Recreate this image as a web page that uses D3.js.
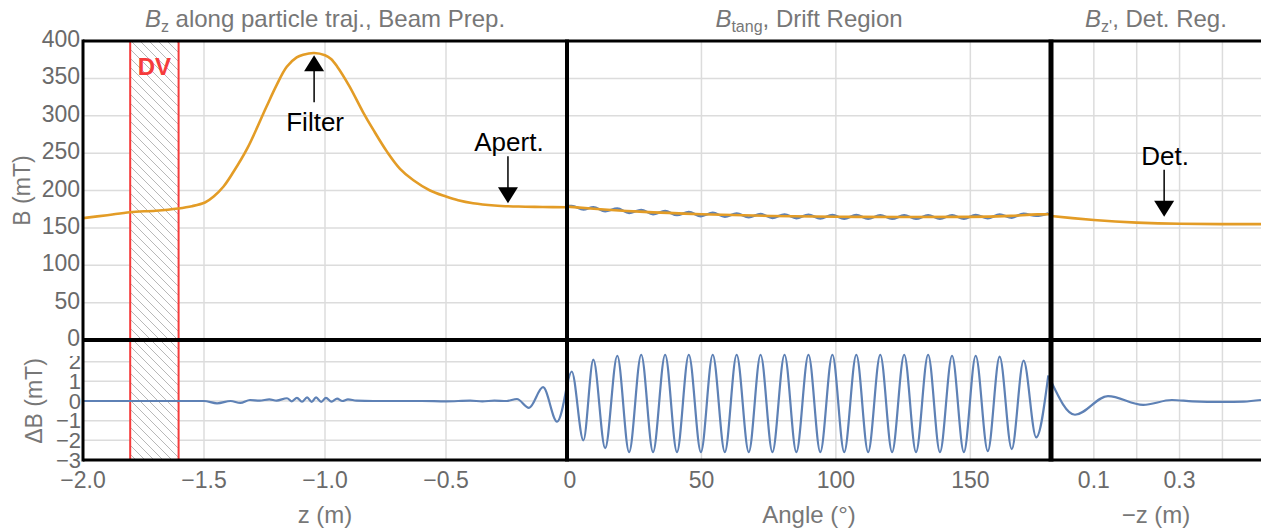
<!DOCTYPE html>
<html>
<head>
<meta charset="utf-8">
<script src="https://cdn.jsdelivr.net/npm/d3@7"></script>
<style>
  body { margin: 0; background: #fff; }
  text { font-family: "Liberation Sans", Arial, Helvetica, sans-serif; }
</style>
</head>
<body>
<svg id="chart" width="1261" height="531"></svg>
<script>
// --- Data ---

const bTicks = [0, 50, 100, 150, 200, 250, 300, 350, 400];
const dbTicks = [-3, -2, -1, 0, 1, 2];
const zTicks = [-2.0, -1.5, -1.0, -0.5];
const zGrid = [-1.5, -1.0, -0.5];
const angleTicks = [0, 50, 100, 150];
const angleGrid = [50, 100, 150];
const detTicks = [0.1, 0.3];
const detGrid = [0.1, 0.2, 0.3, 0.4];

// B_z along trajectory, beam prep (z in m, B in mT)
const bzBeam = [
  [-2.0, 163], [-1.9, 167], [-1.806, 171], [-1.7, 173], [-1.607, 176], [-1.55, 179],
  [-1.496, 184], [-1.46, 192], [-1.42, 205], [-1.38, 224], [-1.32, 257], [-1.242, 312],
  [-1.2, 341], [-1.158, 365.5], [-1.117, 378], [-1.09, 381.7], [-1.045, 384], [-1.0, 381],
  [-0.975, 376], [-0.95, 366], [-0.9, 340], [-0.843, 305], [-0.8, 281], [-0.744, 252],
  [-0.69, 229], [-0.636, 214], [-0.566, 200], [-0.5, 192], [-0.45, 187], [-0.388, 183],
  [-0.3, 180], [-0.2, 178.5], [-0.1, 178], [0, 177.5]
];
// deviation, beam prep (mT)
const dbBeam = [
  [-2.0, 0.0], [-1.6, 0.0], [-1.5, 0.0], [-1.446, -0.12], [-1.39, 0.0], [-1.35, -0.1],
  [-1.31, 0.05], [-1.27, 0.02], [-1.23, 0.08], [-1.2, 0.02], [-1.157, 0.14], [-1.137, -0.02],
  [-1.116, 0.16], [-1.095, -0.04], [-1.074, 0.18], [-1.055, -0.05], [-1.037, 0.18],
  [-1.016, -0.05], [-0.996, 0.16], [-0.973, -0.03], [-0.95, 0.12], [-0.928, 0.0],
  [-0.905, 0.08], [-0.87, 0.02], [-0.8, 0.0], [-0.7, 0.0], [-0.6, 0.0], [-0.5, -0.02],
  [-0.4, 0.02], [-0.35, -0.02], [-0.3, 0.02], [-0.25, 0.0], [-0.207, 0.1], [-0.157, -0.35],
  [-0.099, 0.7], [-0.041, -1.05], [0, 0.8]
];

// B_tang, drift region (angle in deg, B in mT): model and measured
const bTang = [
  [0, 178.4], [10, 175.5], [27, 171.7], [50, 168.2], [76, 165.9], [100, 164.9],
  [125, 164.6], [150, 164.7], [165, 166], [175, 168], [180, 168.2]
];
const bTangMeas = [
  [0, 179.2], [1.75, 179.4], [6.1, 174.6], [9.8, 177.7], [14.2, 172.2], [18.7, 175.9],
  [23.1, 170.0], [27.6, 174.0], [32.0, 168.3], [36.5, 172.6], [40.9, 167.0], [45.3, 171.3],
  [49.8, 165.6], [54.2, 170.2], [58.7, 164.8], [63.1, 169.4], [67.6, 164.0], [72.0, 168.6],
  [76.4, 163.3], [80.9, 168.1], [85.3, 162.9], [89.8, 167.7], [94.2, 162.5], [98.7, 167.3],
  [103.1, 162.3], [107.6, 167.2], [112.0, 162.1], [116.5, 167.0], [120.9, 162.0], [125.4, 167.0],
  [129.8, 162.0], [134.3, 167.0], [138.7, 162.1], [143.2, 167.0], [147.6, 162.1], [152.0, 167.2],
  [156.5, 162.8], [160.9, 167.9], [165.4, 163.6], [169.8, 169.0], [174.5, 166.0], [179.0, 169.5]
];
const dbDrift = [
  [0, 0.8], [1.75, 1.5], [6.1, -2.0], [9.8, 2.1], [14.2, -2.4], [18.7, 2.3], [23.1, -2.6],
  [27.6, 2.35], [32.0, -2.6], [36.5, 2.35], [40.9, -2.6], [45.3, 2.35], [49.8, -2.6],
  [54.2, 2.35], [58.7, -2.6], [63.1, 2.35], [67.6, -2.6], [72.0, 2.35], [76.4, -2.6],
  [80.9, 2.35], [85.3, -2.6], [89.8, 2.35], [94.2, -2.6], [98.7, 2.35], [103.1, -2.6],
  [107.6, 2.35], [112.0, -2.6], [116.5, 2.35], [120.9, -2.6], [125.4, 2.35], [129.8, -2.6],
  [134.3, 2.35], [138.7, -2.6], [143.2, 2.3], [147.6, -2.6], [152.0, 2.3], [156.5, -2.55],
  [160.9, 2.25], [165.4, -2.45], [169.8, 2.05], [174.5, -1.85], [179.0, 1.3]
];

// B_z', detection region (-z in m, B in mT)
const bzDet = [
  [0, 166], [0.05, 163], [0.1, 160.5], [0.15, 158.5], [0.2, 157], [0.25, 156],
  [0.3, 155.5], [0.4, 155], [0.49, 155]
];
const dbDet = [
  [0, 1.0], [0.056, -0.7], [0.133, 0.25], [0.215, -0.2], [0.282, 0.05], [0.33, -0.02],
  [0.4, -0.05], [0.45, -0.03], [0.49, 0.05]
];

const dvRange = [-1.805, -1.605];

const notes = [
  { text: 'Filter', panel: 0, at: -1.045, tip: 381, dir: 'up' },
  { text: 'Apert.', panel: 0, at: -0.244, tip: 183, dir: 'down' },
  { text: 'Det.', panel: 2, at: 0.264, tip: 165, dir: 'down' }
];

// --- Styling ---
const ORANGE = '#e39c26';
const BLUE = '#5e81b5';
const GRID = '#dcdcdc';
const TICK = '#6a6a6a';
const LABEL = '#777';

// --- Scales ---
const xBeam = d3.scaleLinear([-2, 0], [83, 567]);
const xDrift = d3.scaleLinear([0, 180], [567, 1051]);
const xDet = d3.scaleLinear([0, 0.49], [1051, 1261]);
const yB = d3.scaleLinear([0, 400], [340, 41]);
const yD = d3.scaleLinear([-3, 3.1], [460, 340]);

const smooth = d3.curveCatmullRom.alpha(0.5);

const panels = [
  { x: xBeam, grid: zGrid, ticks: zTicks, fmt: d3.format('.1f'), label: 'z (m)',
    title: ['B', 'z', ' along particle traj., Beam Prep.'],
    top: [{ data: bzBeam, color: ORANGE, w: 2.6 }], bottom: dbBeam },
  { x: xDrift, grid: angleGrid, ticks: angleTicks, fmt: d3.format('d'), label: 'Angle (°)',
    title: ['B', 'tang', ', Drift Region'],
    top: [{ data: bTangMeas, color: BLUE, w: 2.4 }, { data: bTang, color: ORANGE, w: 2.6 }], bottom: dbDrift },
  { x: xDet, grid: detGrid, ticks: detTicks, fmt: d3.format('.1f'), label: '\u2212z (m)',
    title: ['B', "z'", ', Det. Reg.'],
    top: [{ data: bzDet, color: ORANGE, w: 2.6 }], bottom: dbDet }
];

const svg = d3.select('#chart');
const defs = svg.append('defs');

// hatch for the DV band
const hatch = defs.append('pattern')
  .attr('id', 'hatch')
  .attr('patternUnits', 'userSpaceOnUse')
  .attr('width', 9).attr('height', 9);
hatch.append('rect').attr('width', 9).attr('height', 9).attr('fill', '#fff');
hatch.append('path')
  .attr('d', 'M0,0 L9,9 M-1,8 L1,10 M8,-1 L10,1')
  .attr('stroke', '#a6a6a6').attr('stroke-width', 0.8);

const xLeft = xBeam.range()[0];
const xRight = xDet.range()[1];

// --- Grid ---
const gridG = svg.append('g');
gridG.selectAll('.hgridB').data(bTicks.slice(1, -1)).enter().append('line')
  .attr('x1', xLeft).attr('x2', xRight)
  .attr('y1', d => yB(d)).attr('y2', d => yB(d))
  .attr('stroke', GRID).attr('stroke-width', 1.5);
gridG.selectAll('.hgridD').data(dbTicks.slice(1)).enter().append('line')
  .attr('x1', xLeft).attr('x2', xRight)
  .attr('y1', d => yD(d)).attr('y2', d => yD(d))
  .attr('stroke', GRID).attr('stroke-width', 1.5);
panels.forEach(p => {
  gridG.selectAll(null).data(p.grid).enter().append('line')
    .attr('x1', d => p.x(d)).attr('x2', d => p.x(d))
    .attr('y1', yB(400)).attr('y2', yD(-3))
    .attr('stroke', GRID).attr('stroke-width', 1.5);
});

// --- DV band ---
svg.append('rect')
  .attr('x', xBeam(dvRange[0]))
  .attr('y', yB(400))
  .attr('width', xBeam(dvRange[1]) - xBeam(dvRange[0]))
  .attr('height', yD(-3) - yB(400))
  .attr('fill', 'url(#hatch)')
  .attr('stroke', '#f53b3b')
  .attr('stroke-width', 2);
svg.append('text')
  .attr('x', xBeam((dvRange[0] + dvRange[1]) / 2))
  .attr('y', 75)
  .attr('text-anchor', 'middle')
  .attr('font-size', 24).attr('font-weight', 'bold')
  .attr('fill', '#f53b3b')
  .text('DV');

// --- Curves ---
panels.forEach((p, i) => {
  const [x0, x1] = p.x.range();
  defs.append('clipPath').attr('id', `clip${i}`)
    .append('rect').attr('x', x0).attr('y', yB(400))
    .attr('width', x1 - x0).attr('height', yD(-3) - yB(400));
  const g = svg.append('g').attr('clip-path', `url(#clip${i})`);
  const lineTop = d3.line().x(d => p.x(d[0])).y(d => yB(d[1]))
    .curve(i === 0 ? smooth : d3.curveMonotoneX);
  const lineBot = d3.line().x(d => p.x(d[0])).y(d => yD(d[1])).curve(d3.curveMonotoneX);
  p.top.forEach(s => {
    g.append('path').attr('d', lineTop(s.data))
      .attr('fill', 'none').attr('stroke', s.color).attr('stroke-width', s.w)
      .attr('stroke-linejoin', 'round');
  });
  g.append('path').attr('d', lineBot(p.bottom))
    .attr('fill', 'none').attr('stroke', BLUE).attr('stroke-width', 2.2)
    .attr('stroke-linejoin', 'round');
});

// --- Frames ---
const frame = svg.append('g').attr('stroke', '#000');
frame.append('line').attr('x1', xLeft).attr('x2', xRight)
  .attr('y1', yB(400)).attr('y2', yB(400)).attr('stroke-width', 3);
frame.append('line').attr('x1', xLeft).attr('x2', xRight)
  .attr('y1', yB(0)).attr('y2', yB(0)).attr('stroke-width', 4);
frame.append('line').attr('x1', xLeft).attr('x2', xRight)
  .attr('y1', yD(-3)).attr('y2', yD(-3)).attr('stroke-width', 3);
[[xBeam(-2), 3], [xDrift(0), 4], [xDrift(180), 5]].forEach(([x, w]) => {
  frame.append('line').attr('x1', x).attr('x2', x)
    .attr('y1', yB(400) - 1.5).attr('y2', yD(-3) + 1.5).attr('stroke-width', w);
});

// --- Y tick labels ---
const yLab = svg.append('g').attr('fill', TICK).attr('font-size', 23).attr('text-anchor', 'end');
yLab.selectAll(null).data(bTicks).enter().append('text')
  .attr('x', 80).attr('y', d => yB(d) - 2).attr('dy', '0.35em')
  .text(d3.format('d'));
defs.append('clipPath').attr('id', 'clipDb')
  .append('rect').attr('x', 0).attr('y', 356).attr('width', 84).attr('height', 180);
yLab.append('g').attr('clip-path', 'url(#clipDb)').attr('font-size', 22)
  .selectAll(null).data(dbTicks).enter().append('text')
  .attr('x', 81).attr('y', d => yD(d)).attr('dy', '0.35em')
  .text(d3.format('d'));

svg.append('text')
  .attr('transform', `translate(30,${yB(200)}) rotate(-90)`)
  .attr('text-anchor', 'middle').attr('font-size', 23).attr('fill', LABEL)
  .text('B (mT)');
svg.append('text')
  .attr('transform', `translate(42,${yD(0)}) rotate(-90)`)
  .attr('text-anchor', 'middle').attr('font-size', 23).attr('fill', LABEL)
  .text('\u0394B (mT)');

// --- X tick labels, axis labels, titles ---
panels.forEach(p => {
  const [x0, x1] = p.x.range();
  const mid = (x0 + x1) / 2;
  svg.append('g').attr('fill', TICK).attr('font-size', 23).attr('text-anchor', 'middle')
    .selectAll(null).data(p.ticks).enter().append('text')
    .attr('x', d => p.x(d) + (d === 0 ? 3 : 0)).attr('y', 488)
    .text(p.fmt);
  svg.append('text').attr('x', mid).attr('y', 523)
    .attr('text-anchor', 'middle').attr('font-size', 24).attr('fill', LABEL)
    .text(p.label);
  const t = svg.append('text').attr('x', mid).attr('y', 27)
    .attr('text-anchor', 'middle').attr('font-size', 24).attr('fill', LABEL);
  t.append('tspan').attr('font-style', 'italic').text(p.title[0]);
  t.append('tspan').attr('font-size', 16).attr('dy', 5).text(p.title[1]);
  t.append('tspan').attr('dy', -5).text(p.title[2]);
});

// --- Annotations ---
notes.forEach(n => {
  const x = panels[n.panel].x(n.at);
  const tip = yB(n.tip);
  const s = n.dir === 'up' ? 1 : -1;
  const g = svg.append('g');
  g.append('path')
    .attr('d', `M${x},${tip} L${x - 10},${tip + s * 16} L${x + 10},${tip + s * 16} Z`)
    .attr('fill', '#000');
  g.append('line').attr('x1', x).attr('x2', x)
    .attr('y1', tip + s * 15).attr('y2', tip + s * 47)
    .attr('stroke', '#000').attr('stroke-width', 1.5);
  g.append('text').attr('x', x + 1).attr('y', s > 0 ? tip + 76 : tip - 52)
    .attr('text-anchor', 'middle').attr('font-size', 26).attr('fill', '#000')
    .text(n.text);
});
</script>
</body>
</html>
